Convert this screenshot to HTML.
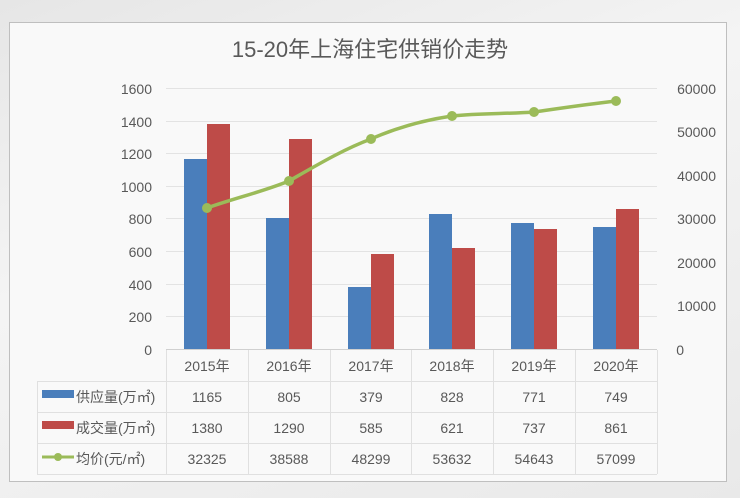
<!DOCTYPE html>
<html><head><meta charset="utf-8"><style>
body{margin:0;width:740px;height:498px;overflow:hidden;background:linear-gradient(160deg,#e6e6e6 0%,#f4f4f4 40%,#e9e9e9 100%);}
svg{display:block}
text{font-family:"Liberation Sans","Noto Sans CJK SC",sans-serif;fill:#595959}
</style></head><body>
<svg width="740" height="498" viewBox="0 0 740 498">
<rect x="9.5" y="22.5" width="717" height="459" fill="#f9f9f9" stroke="#bfbfbf"/>
<text x="370" y="57" font-size="22" text-anchor="middle">15-20年上海住宅供销价走势</text>
<g stroke="#e3e3e3" stroke-width="1">
<line x1="166" y1="88.5" x2="657" y2="88.5"/>
<line x1="166" y1="121.5" x2="657" y2="121.5"/>
<line x1="166" y1="153.5" x2="657" y2="153.5"/>
<line x1="166" y1="186.5" x2="657" y2="186.5"/>
<line x1="166" y1="218.5" x2="657" y2="218.5"/>
<line x1="166" y1="251.5" x2="657" y2="251.5"/>
<line x1="166" y1="284.5" x2="657" y2="284.5"/>
<line x1="166" y1="316.5" x2="657" y2="316.5"/>
</g>
<g font-size="14" text-anchor="end">
<text x="152" y="94">1600</text><text x="152" y="127">1400</text><text x="152" y="159">1200</text><text x="152" y="192">1000</text><text x="152" y="224">800</text><text x="152" y="257">600</text><text x="152" y="290">400</text><text x="152" y="322">200</text><text x="152" y="355">0</text>
</g>
<g font-size="14" text-anchor="end">
<text x="716" y="94">60000</text><text x="716" y="137">50000</text><text x="716" y="181">40000</text><text x="716" y="224">30000</text><text x="716" y="268">20000</text><text x="716" y="311">10000</text><text x="684" y="355">0</text>
</g>
<g fill="#4a7ebb">
<rect x="184" y="159" width="23" height="190"/>
<rect x="266" y="218" width="23" height="131"/>
<rect x="348" y="287" width="23" height="62"/>
<rect x="429" y="214" width="23" height="135"/>
<rect x="511" y="223" width="23" height="126"/>
<rect x="593" y="227" width="23" height="122"/>
</g>
<g fill="#be4b48">
<rect x="207" y="124" width="23" height="225"/>
<rect x="289" y="139" width="23" height="210"/>
<rect x="371" y="254" width="23" height="95"/>
<rect x="452" y="248" width="23" height="101"/>
<rect x="534" y="229" width="23" height="120"/>
<rect x="616" y="209" width="23" height="140"/>
</g>
<path d="M207,208 C235,198 262,192 289,181 C317,165 344,149 371,139 C398,127 425,120 452,116 C480,113 507,114 534,112 C562,108 589,104 616,101" fill="none" stroke="#9bbb59" stroke-width="3.5"/>
<g fill="#9bbb59">
<circle cx="207" cy="208" r="5"/><circle cx="289" cy="181" r="5"/><circle cx="371" cy="139" r="5"/><circle cx="452" cy="116" r="5"/><circle cx="534" cy="112" r="5"/><circle cx="616" cy="101" r="5"/>
</g>
<g stroke="#e0e0e0" fill="none">
<line x1="166.5" y1="350" x2="166.5" y2="474"/>
<line x1="248.5" y1="350" x2="248.5" y2="474"/>
<line x1="330.5" y1="350" x2="330.5" y2="474"/>
<line x1="411.5" y1="350" x2="411.5" y2="474"/>
<line x1="493.5" y1="350" x2="493.5" y2="474"/>
<line x1="575.5" y1="350" x2="575.5" y2="474"/>
<line x1="657.5" y1="350" x2="657.5" y2="474"/>
<line x1="37.5" y1="381" x2="37.5" y2="474"/>
<line x1="166" y1="349.5" x2="657" y2="349.5" stroke="#d0d0d0"/>
<line x1="37" y1="381.5" x2="657" y2="381.5"/>
<line x1="37" y1="412.5" x2="657" y2="412.5"/>
<line x1="37" y1="443.5" x2="657" y2="443.5"/>
<line x1="37" y1="474.5" x2="657" y2="474.5"/>
</g>
<g font-size="14" text-anchor="middle">
<text x="207" y="371">2015年</text><text x="289" y="371">2016年</text><text x="371" y="371">2017年</text><text x="452" y="371">2018年</text><text x="534" y="371">2019年</text><text x="616" y="371">2020年</text>
<text x="207" y="402">1165</text><text x="289" y="402">805</text><text x="371" y="402">379</text><text x="452" y="402">828</text><text x="534" y="402">771</text><text x="616" y="402">749</text>
<text x="207" y="433">1380</text><text x="289" y="433">1290</text><text x="371" y="433">585</text><text x="452" y="433">621</text><text x="534" y="433">737</text><text x="616" y="433">861</text>
<text x="207" y="464">32325</text><text x="289" y="464">38588</text><text x="371" y="464">48299</text><text x="452" y="464">53632</text><text x="534" y="464">54643</text><text x="616" y="464">57099</text>
</g>
<rect x="42" y="390" width="32" height="8" fill="#4a7ebb"/>
<rect x="42" y="421" width="32" height="8" fill="#be4b48"/>
<line x1="42" y1="457" x2="74" y2="457" stroke="#9bbb59" stroke-width="3"/>
<circle cx="58" cy="457" r="4" fill="#9bbb59"/>
<g font-size="14">
<text x="76" y="402">供应量(万㎡)</text>
<text x="76" y="433">成交量(万㎡)</text>
<text x="76" y="464">均价(元/㎡)</text>
</g>
</svg>
</body></html>
